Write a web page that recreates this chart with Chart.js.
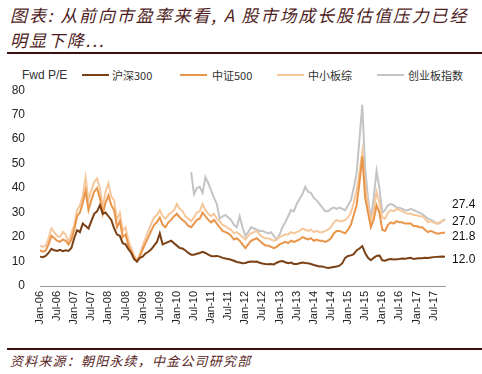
<!DOCTYPE html>
<html>
<head>
<meta charset="utf-8">
<script src="https://cdn.jsdelivr.net/npm/chart.js@4/dist/chart.umd.min.js"></script>
<style>
  html, body { margin: 0; padding: 0; background: #fff; }
  body { width: 482px; height: 374px; position: relative; overflow: hidden; font-family: "Liberation Sans", Arial, sans-serif; }
  .title { position: absolute; left: 10px; top: 2px; width: 475px; font-family: "Noto Sans CJK SC", sans-serif; font-style: italic; font-size: 17px; line-height: 25px; letter-spacing: 1.9px; color: #4f1d1d; white-space: nowrap; }
  .rule { position: absolute; left: 7px; width: 475px; height: 2px; background: #3d0f0f; }
  .legend { position: absolute; top: 67px; left: 0; height: 16px; width: 482px; font-size: 11px; color: #333; }
  .legend span { position: absolute; top: 0; line-height: 16px; white-space: nowrap; }
  .legend .cjk { font-family: "Noto Sans CJK SC", sans-serif; }
  .legend i { position: absolute; top: 7px; height: 2px; width: 27px; }
  .source { position: absolute; left: 10px; top: 352px; font-family: "Noto Sans CJK SC", sans-serif; font-style: italic; font-size: 13px; line-height: 18px; letter-spacing: 1.2px; color: #5a1f1f; white-space: nowrap; }
  #wrap { position: absolute; left: 0; top: 68px; width: 482px; height: 268px; }
</style>
</head>
<body>
<div class="title">图表: 从前向市盈率来看, A 股市场成长股估值压力已经<br>明显下降...</div>
<div class="rule" style="top:52px"></div>
<div class="legend">
  <span style="left:22px;font-size:12px">Fwd P/E</span>
  <i style="left:82px;background:#7a4116"></i><span class="cjk" style="left:112px">沪深300</span>
  <i style="left:180px;background:#e9954a"></i><span class="cjk" style="left:212px">中证500</span>
  <i style="left:277px;background:#f6c79b"></i><span class="cjk" style="left:308px">中小板综</span>
  <i style="left:377px;background:#c4c4c4"></i><span class="cjk" style="left:408px">创业板指数</span>
</div>
<div id="wrap"><canvas id="c" width="482" height="268"></canvas></div>
<div class="rule" style="top:348px"></div>
<div class="source">资料来源：朝阳永续，中金公司研究部</div>
<script>
// ---- data (monthly, Jan-2006 .. Nov-2017) ----
const startYear = 2006;
const monthNames = ['Jan','Feb','Mar','Apr','May','Jun','Jul','Aug','Sep','Oct','Nov','Dec'];
const tickLabels = ['Jan-06','Jul-06','Jan-07','Jul-07','Jan-08','Jul-08','Jan-09','Jul-09','Jan-10','Jul-10','Jan-11','Jul-11','Jan-12','Jul-12','Jan-13','Jul-13','Jan-14','Jul-14','Jan-15','Jul-15','Jan-16','Jul-16','Jan-17','Jul-17'];
const seriesNames = ['沪深300','中证500','中小板综','创业板指数'];

const hs300 = [
  12.0,11.8,12.3,13.5,15.2,14.6,14.3,14.8,14.2,14.6,14.3,15.5,
  19.5,22.8,22.0,25.5,24.5,23.5,26.5,29.5,30.5,33.0,29.5,30.0,
  28.5,27.0,23.5,21.0,20.5,17.5,17.0,15.0,13.5,11.0,10.0,11.5,
  12.0,13.3,14.0,15.0,16.5,18.0,21.5,17.0,17.5,18.0,18.5,17.5,
  16.5,15.5,15.3,14.5,13.5,12.8,12.8,13.2,13.5,14.0,13.5,12.8,
  12.3,12.2,12.3,12.0,11.5,11.2,11.0,10.7,10.3,9.8,9.6,9.3,
  9.4,9.8,10.0,9.9,10.0,9.5,9.2,9.0,8.9,9.0,8.8,9.5,
  10.0,10.2,9.7,9.3,9.6,9.0,9.0,9.3,9.6,9.4,9.3,9.0,
  8.6,8.3,8.0,8.0,7.6,7.4,7.6,7.8,8.0,8.3,9.3,11.5,
  12.3,12.5,13.0,14.5,15.3,16.3,13.5,11.5,10.5,11.5,12.3,12.5,
  10.5,10.3,10.8,11.0,10.8,10.9,11.0,11.2,11.1,11.3,11.5,11.0,
  11.2,11.3,11.3,11.5,11.4,11.6,11.8,11.9,12.0,12.1,12.0
];
const csi500 = [
  14.5,14.0,14.5,17.0,20.5,19.5,18.5,18.0,19.0,18.5,17.0,19.0,
  23.0,28.5,30.0,34.0,39.0,31.0,35.0,38.5,40.0,36.0,29.5,34.0,
  37.0,33.0,31.0,24.0,26.5,20.0,21.0,16.5,14.0,11.5,10.0,12.0,
  15.0,17.5,20.0,22.5,25.0,26.0,28.0,25.0,24.0,26.0,27.0,28.5,
  29.5,28.0,27.0,26.0,24.5,24.0,25.5,27.0,27.5,30.0,28.5,27.0,
  26.0,27.0,25.5,24.0,22.5,22.0,21.5,20.5,19.0,19.5,18.5,17.0,
  15.5,17.0,18.5,19.0,19.5,18.5,17.5,16.5,16.5,16.0,15.5,16.0,
  17.0,17.5,18.0,17.5,18.5,18.0,18.5,19.0,20.0,19.5,19.0,19.5,
  18.5,19.0,18.5,18.5,18.0,18.5,19.5,21.5,22.5,22.5,22.0,21.5,
  23.0,25.0,29.0,33.0,42.0,53.0,36.0,30.0,24.0,27.0,33.0,30.0,
  23.0,22.5,25.0,26.0,25.5,26.5,26.0,26.0,25.5,25.5,25.5,24.5,
  24.5,24.0,24.0,23.0,22.0,22.5,22.0,21.5,21.5,21.8,21.8
];
const smeComposite = [
  16.5,16.0,16.5,19.5,23.5,22.0,20.5,20.0,22.0,21.0,18.0,21.5,
  25.0,31.0,33.0,37.0,44.5,35.0,39.0,42.5,44.0,40.0,32.0,38.5,
  42.0,36.5,35.0,27.0,30.0,22.5,24.0,18.5,15.5,12.5,10.5,13.0,
  16.5,19.5,22.5,25.5,28.0,29.0,31.0,28.5,27.5,29.0,30.0,31.0,
  33.5,31.5,30.5,28.5,27.5,26.5,28.0,30.0,30.5,33.5,31.0,29.5,
  28.5,29.5,27.5,26.5,25.0,24.5,23.5,23.0,21.5,22.0,21.0,20.0,
  19.0,20.5,21.5,22.0,22.5,21.0,20.0,19.5,19.5,19.0,18.5,19.0,
  20.0,20.5,21.0,21.0,22.0,21.5,22.0,22.5,23.5,23.0,22.5,23.0,
  22.0,22.5,22.0,22.0,22.5,23.0,24.0,26.0,27.0,26.5,26.5,27.0,
  28.0,30.0,34.0,39.0,46.0,55.0,41.0,33.0,26.0,31.0,38.5,34.0,
  28.0,27.5,30.0,31.0,30.5,31.5,31.0,30.5,30.0,29.5,29.5,29.0,
  29.0,28.5,28.5,27.5,26.0,26.5,26.0,25.5,26.0,26.5,27.0
];
const chinext = [
  null,null,null,null,null,null,null,null,null,null,null,null,
  null,null,null,null,null,null,null,null,null,null,null,null,
  null,null,null,null,null,null,null,null,null,null,null,null,
  null,null,null,null,null,null,null,null,null,null,null,null,
  null,null,null,null,null,46.5,37.5,40.0,40.5,38.0,44.5,42.0,
  39.0,36.0,33.5,27.5,28.5,29.0,28.0,27.0,25.0,24.0,28.5,24.0,
  20.5,22.0,24.0,23.5,23.0,22.5,22.5,22.0,21.5,22.0,20.5,19.0,
  21.0,24.0,26.0,28.5,31.0,30.5,33.5,35.5,37.5,40.5,38.5,38.0,
  36.0,35.0,33.5,32.0,30.5,30.5,31.5,32.0,31.5,32.0,31.5,31.0,
  33.0,35.0,40.0,46.0,60.0,74.0,48.0,36.0,27.0,36.0,47.0,40.0,
  30.0,31.0,33.0,33.5,33.0,32.0,32.0,31.5,31.0,31.0,31.5,31.0,
  30.5,30.0,29.5,28.5,27.5,27.0,26.5,25.5,25.5,26.5,27.4
];

// category labels, one per month
const categories = hs300.map((_, i) => monthNames[i % 12] + '-' + String((startYear + Math.floor(i / 12)) % 100).padStart(2, '0'));

const colors = ['#7a4116', '#e9954a', '#f6c79b', '#c4c4c4'];
const labelOffsets = [3.5, 4, 2, -14];

const endLabels = {
  id: 'endLabels',
  afterDatasetsDraw(chart) {
    const ctx = chart.ctx;
    const y = chart.scales.y;
    ctx.save();
    ctx.font = '12px "Liberation Sans", Arial, sans-serif';
    ctx.fillStyle = '#111';
    ctx.textAlign = 'left';
    ctx.textBaseline = 'middle';
    chart.data.datasets.forEach((ds, i) => {
      const v = ds.data[ds.data.length - 1];
      ctx.fillText(v.toFixed(1), chart.chartArea.right + 7, y.getPixelForValue(v) + labelOffsets[i]);
    });
    ctx.restore();
  }
};

const dataSeries = [hs300, csi500, smeComposite, chinext];

new Chart(document.getElementById('c'), {
  type: 'line',
  data: {
    labels: categories,
    datasets: dataSeries.map((d, i) => ({
      label: seriesNames[i],
      data: d,
      borderColor: colors[i],
      backgroundColor: colors[i],
      borderWidth: 2,
      pointRadius: 0,
      tension: 0,
      spanGaps: false
    }))
  },
  options: {
    responsive: false,
    animation: false,
    devicePixelRatio: 1,
    layout: { padding: { left: 0, right: 37, top: 5, bottom: 0 } },
    plugins: { legend: { display: false }, tooltip: { enabled: false } },
    scales: {
      x: {
        type: 'category',
        grid: { display: false, drawTicks: false },
        border: { display: true, color: '#9a9a9a', width: 1 },
        ticks: {
          autoSkip: false,
          maxRotation: 90,
          minRotation: 90,
          padding: 5,
          color: '#222',
          font: { family: '"Liberation Sans", Arial, sans-serif', size: 11 },
          callback: function(val, idx) {
            const l = categories[idx];
            return tickLabels.includes(l) ? l : '';
          }
        },
        afterFit: s => { s.height = 50; }
      },
      y: {
        min: 0, max: 80,
        grid: { display: false, drawTicks: false },
        border: { display: false },
        ticks: {
          stepSize: 10,
          padding: 15,
          color: '#222',
          font: { family: '"Liberation Sans", Arial, sans-serif', size: 12 }
        },
        afterFit: s => { s.width = 40; }
      }
    }
  },
  plugins: [endLabels]
});
</script>
</body>
</html>
